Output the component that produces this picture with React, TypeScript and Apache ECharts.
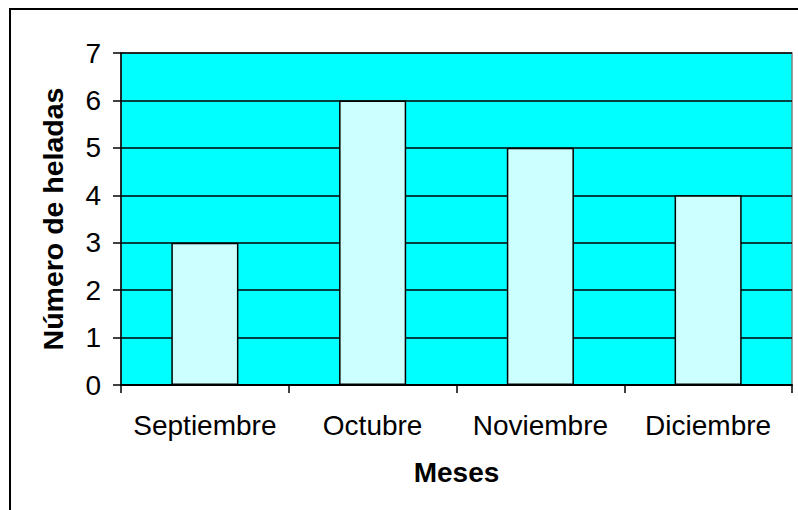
import React, { useEffect, useRef } from "react";
import * as echarts from "echarts";

const categories = ["Septiembre", "Octubre", "Noviembre", "Diciembre"];
const heladas = [3, 6, 5, 4];
const yTicks = { min: 0, max: 7, interval: 1 };

export default function App() {
  const ref = useRef<HTMLDivElement>(null);
  useEffect(() => {
    if (!ref.current) return;
    const chart = echarts.init(ref.current, null, { renderer: "svg" });
    const font = "'Liberation Sans', Arial, sans-serif";
    chart.setOption({
      animation: false,
      backgroundColor: "#ffffff",
      textStyle: { fontFamily: font },
      graphic: [
        {
          type: "rect",
          shape: { x: 10, y: 9, width: 800, height: 520 },
          style: { fill: "none", stroke: "#000", lineWidth: 2 },
          z: 100,
        },
      ],
      grid: {
        left: 121,
        top: 53,
        right: 6,
        bottom: 125,
        show: true,
        backgroundColor: "#00FFFF",
        borderColor: "#808080",
        borderWidth: 1.5,
      },
      xAxis: {
        type: "category",
        data: categories,
        name: "Meses",
        nameLocation: "middle",
        nameGap: 73,
        nameTextStyle: { fontFamily: font, fontSize: 28, fontWeight: "bold", color: "#000" },
        axisLine: { lineStyle: { color: "#000", width: 2 } },
        axisTick: { show: true, length: 8, lineStyle: { color: "#000", width: 1.5 } },
        axisLabel: { fontFamily: font, fontSize: 28, color: "#000", margin: 26, interval: 0 },
        z: 10,
      },
      yAxis: {
        type: "value",
        min: yTicks.min,
        max: yTicks.max,
        interval: yTicks.interval,
        name: "Número de heladas",
        nameLocation: "middle",
        nameGap: 54,
        nameRotate: 90,
        nameTextStyle: { fontFamily: font, fontSize: 28.5, fontWeight: "bold", color: "#000" },
        axisLine: { show: true, lineStyle: { color: "#000", width: 1.5 } },
        axisTick: { show: true, length: 8, lineStyle: { color: "#000", width: 1.5 } },
        axisLabel: { fontFamily: font, fontSize: 28, color: "#000", margin: 20 },
        splitLine: { show: true, lineStyle: { color: "#000", width: 1.5 } },
      },
      series: [
        {
          type: "bar",
          data: heladas,
          barWidth: "40%",
          itemStyle: { color: "#CCFFFF", borderColor: "#000", borderWidth: 1.5 },
        },
      ],
    });
    return () => chart.dispose();
  }, []);
  return (
    <div
      ref={ref}
      style={{ position: "fixed", left: 0, top: 0, width: 798, height: 510 }}
    />
  );
}
